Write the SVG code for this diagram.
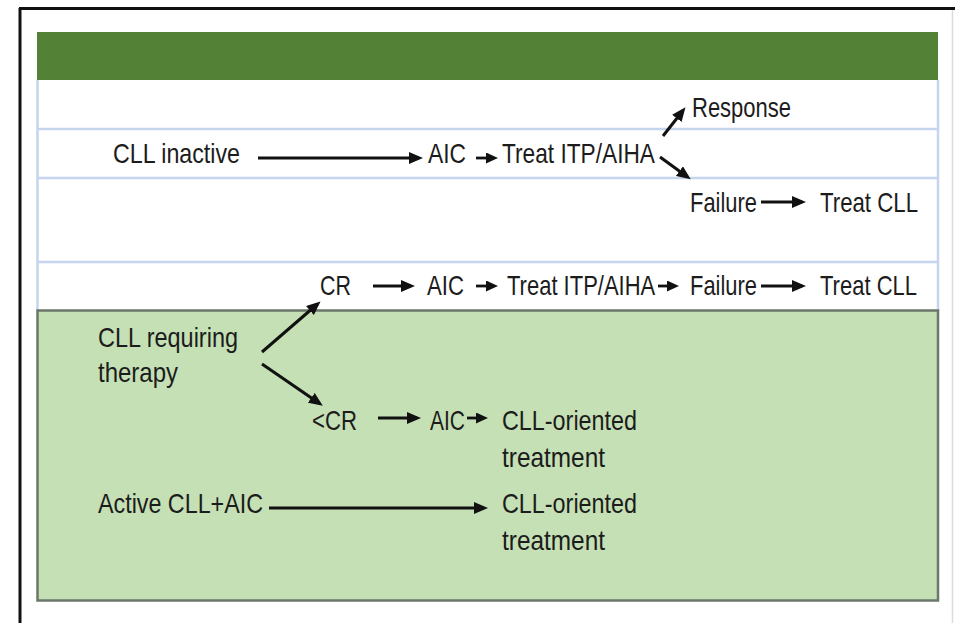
<svg xmlns="http://www.w3.org/2000/svg" width="955" height="623" viewBox="0 0 955 623">
<defs>
<style>
.t{font-family:"Liberation Sans",Arial,sans-serif;font-size:28.5px;fill:#1c1c1c}
.c{stroke:#111;stroke-width:3;fill:none}
.cs{stroke:#111;stroke-width:2.8;fill:none}
.rl{stroke:#c6d5ee;stroke-width:2.5}
</style>
<marker id="ah" markerUnits="userSpaceOnUse" markerWidth="14" markerHeight="12" refX="10" refY="6" orient="auto">
<path d="M0,0 L14,6 L0,12 z" fill="#111"/>
</marker>
<marker id="ahs" markerUnits="userSpaceOnUse" markerWidth="12" markerHeight="11" refX="8" refY="5.5" orient="auto">
<path d="M0,0 L12,5.5 L0,11 z" fill="#111"/>
</marker>
</defs>
<rect x="0" y="0" width="955" height="623" fill="#ffffff"/>
<g id="frame">
<line x1="19" y1="8.5" x2="955" y2="8.5" stroke="#111" stroke-width="3"/>
<line x1="20" y1="8" x2="20" y2="623" stroke="#111" stroke-width="3"/>
<line x1="952.5" y1="10" x2="952.5" y2="623" stroke="#dcdcdc" stroke-width="1.5"/>
</g>
<g id="table">
<rect x="37" y="32" width="901" height="48" fill="#538135"/>
<line class="rl" x1="37" y1="129" x2="938" y2="129"/>
<line class="rl" x1="37" y1="178" x2="938" y2="178"/>
<line class="rl" x1="37" y1="262" x2="938" y2="262"/>
<line class="rl" x1="37.5" y1="80" x2="37.5" y2="311"/>
<line class="rl" x1="938" y1="80" x2="938" y2="311"/>
<rect x="37.5" y="310.5" width="900.5" height="290" fill="#c5e0b4" stroke="#6a776a" stroke-width="2.5"/>
</g>
<g id="connectors">
<line class="c" x1="258" y1="158" x2="419" y2="158" marker-end="url(#ah)"/>
<line class="cs" x1="476" y1="158" x2="494" y2="158" marker-end="url(#ahs)"/>
<line class="c" x1="663" y1="136" x2="683" y2="110.5" marker-end="url(#ah)"/>
<line class="c" x1="660" y1="157" x2="687.5" y2="177" marker-end="url(#ah)"/>
<line class="c" x1="761" y1="202" x2="802" y2="202" marker-end="url(#ah)"/>
<line class="c" x1="373" y1="286" x2="411" y2="286" marker-end="url(#ah)"/>
<line class="cs" x1="476" y1="286" x2="494" y2="286" marker-end="url(#ahs)"/>
<line class="cs" x1="658" y1="286" x2="675" y2="286" marker-end="url(#ahs)"/>
<line class="c" x1="761" y1="286" x2="802" y2="286" marker-end="url(#ah)"/>
<line class="c" x1="262" y1="352" x2="317.5" y2="304" marker-end="url(#ah)"/>
<line class="c" x1="262" y1="364" x2="319.5" y2="403.5" marker-end="url(#ah)"/>
<line class="c" x1="378" y1="418" x2="417" y2="418" marker-end="url(#ah)"/>
<line class="cs" x1="467" y1="418" x2="484" y2="418" marker-end="url(#ahs)"/>
<line class="c" x1="269" y1="508" x2="484" y2="508" marker-end="url(#ah)"/>
</g>
<g id="n-response"><text class="t" x="692" y="117" textLength="99" lengthAdjust="spacingAndGlyphs">Response</text></g>
<g id="n-cll-inactive"><text class="t" x="113" y="163" textLength="127" lengthAdjust="spacingAndGlyphs">CLL inactive</text></g>
<g id="n-aic1"><text class="t" x="428" y="163" textLength="38" lengthAdjust="spacingAndGlyphs">AIC</text></g>
<g id="n-treat1"><text class="t" x="502" y="163" textLength="153" lengthAdjust="spacingAndGlyphs">Treat ITP/AIHA</text></g>
<g id="n-failure1"><text class="t" x="690" y="212" textLength="67" lengthAdjust="spacingAndGlyphs">Failure</text></g>
<g id="n-treatcll1"><text class="t" x="820" y="212" textLength="98" lengthAdjust="spacingAndGlyphs">Treat CLL</text></g>
<g id="n-cr"><text class="t" x="320" y="295" textLength="31" lengthAdjust="spacingAndGlyphs">CR</text></g>
<g id="n-aic2"><text class="t" x="427" y="295" textLength="37" lengthAdjust="spacingAndGlyphs">AIC</text></g>
<g id="n-treat2"><text class="t" transform="translate(507,295) scale(0.772,1)" x="0" y="0">Treat ITP/AIHA</text></g>
<g id="n-failure2"><text class="t" x="690" y="295" textLength="67" lengthAdjust="spacingAndGlyphs">Failure</text></g>
<g id="n-treatcll2"><text class="t" x="820" y="295" textLength="97" lengthAdjust="spacingAndGlyphs">Treat CLL</text></g>
<g id="n-cll-requiring">
<text class="t" x="98" y="347" textLength="140" lengthAdjust="spacingAndGlyphs">CLL requiring</text>
<text class="t" x="98" y="382" textLength="80" lengthAdjust="spacingAndGlyphs">therapy</text>
</g>
<g id="n-lesscr"><text class="t" x="312" y="430" textLength="45" lengthAdjust="spacingAndGlyphs">&lt;CR</text></g>
<g id="n-aic3"><text class="t" x="430" y="430" textLength="35" lengthAdjust="spacingAndGlyphs">AIC</text></g>
<g id="n-cllor1">
<text class="t" x="502" y="430" textLength="135" lengthAdjust="spacingAndGlyphs">CLL-oriented</text>
<text class="t" x="502" y="467" textLength="103" lengthAdjust="spacingAndGlyphs">treatment</text>
</g>
<g id="n-active"><text class="t" x="98" y="513" textLength="165" lengthAdjust="spacingAndGlyphs">Active CLL+AIC</text></g>
<g id="n-cllor2">
<text class="t" x="502" y="513" textLength="135" lengthAdjust="spacingAndGlyphs">CLL-oriented</text>
<text class="t" x="502" y="550" textLength="103" lengthAdjust="spacingAndGlyphs">treatment</text>
</g>
</svg>
